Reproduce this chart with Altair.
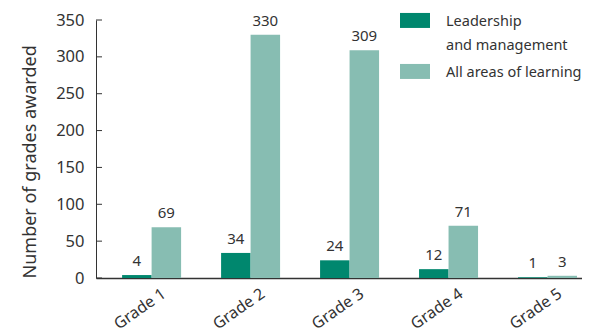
import altair as alt
import pandas as pd

grades = ["Grade 1", "Grade 2", "Grade 3", "Grade 4", "Grade 5"]
leadership = [4, 34, 24, 12, 1]
all_areas = [69, 330, 309, 71, 3]
series = ["Leadership and management", "All areas of learning"]
colors = ["#00876e", "#87bdb2"]
y_ticks = [0, 50, 100, 150, 200, 250, 300, 350]

rows = []
for g, a, b in zip(grades, leadership, all_areas):
    rows.append({"grade": g, "series": series[0], "value": a})
    rows.append({"grade": g, "series": series[1], "value": b})
df = pd.DataFrame(rows)
ticks_df = pd.DataFrame({"t": y_ticks})

FONT = "Noto Sans"
TXT = "#333333"

x = alt.X(
    "grade:N", sort=grades,
    scale=alt.Scale(paddingInner=0.404, paddingOuter=0.157, align=0.84),
    axis=alt.Axis(title=None, labelAngle=-35, ticks=False, domainColor=TXT,
                  domainWidth=1.5, labelFontSize=16, labelColor=TXT,
                  labelFont=FONT, labelPadding=7, labelOffset=8,
                  labelAlign="right", labelBaseline="top"),
)
y_scale = alt.Scale(domain=[0, 350], nice=False)
y_axis = alt.Axis(values=y_ticks, grid=False, ticks=False, labelOverlap=False,
                  title="Number of grades awarded", titleFontSize=18,
                  titleFontWeight="normal", titleColor=TXT, titleFont=FONT,
                  titleAnchor="start", titlePadding=16,
                  labelPadding=12, labelFontSize=16.5, labelColor=TXT,
                  labelFont=FONT, domainColor=TXT, domainWidth=1)
y = alt.Y("value:Q", scale=y_scale, axis=y_axis)
xoff = alt.XOffset("series:N", sort=series, scale=alt.Scale(paddingInner=0))
color = alt.Color(
    "series:N", sort=series,
    scale=alt.Scale(domain=series, range=colors),
    legend=alt.Legend(
        title=None, orient="none", legendX=304, legendY=-9,
        symbolType="M-1,-0.87H1V0.13H-1Z", symbolSize=900, symbolStrokeWidth=0,
        labelFontSize=14.5, labelFont=FONT, labelColor=TXT, labelLimit=300,
        labelOffset=16, rowPadding=9, padding=0, labelBaseline="alphabetic",
        labelExpr="datum.label == 'Leadership and management' ? ['Leadership', 'and management'] : datum.label",
    ),
)

bars = alt.Chart(df).mark_bar().encode(x=x, xOffset=xoff, y=y, color=color)
labels = alt.Chart(df).mark_text(
    dy=-6, baseline="bottom", fontSize=15, font=FONT, color=TXT
).encode(x=x, xOffset=xoff, y=y, text="value:Q")
tick_marks = alt.Chart(ticks_df).mark_rule(color=TXT, strokeWidth=1).encode(
    x=alt.value(0), x2=alt.value(6),
    y=alt.Y("t:Q", scale=y_scale, axis=y_axis),
)

chart = alt.layer(bars, labels, tick_marks).properties(
    width=486, height=258,
    autosize=alt.AutoSizeParams(type="none"),
    padding={"left": 88, "top": 12, "right": 0, "bottom": 56},
).configure(
    view=alt.ViewConfig(stroke=None),
    style={"guide-label": {"lineHeight": 24}},
)

chart.save("out.html", embed_options={"renderer": "svg", "actions": False})
